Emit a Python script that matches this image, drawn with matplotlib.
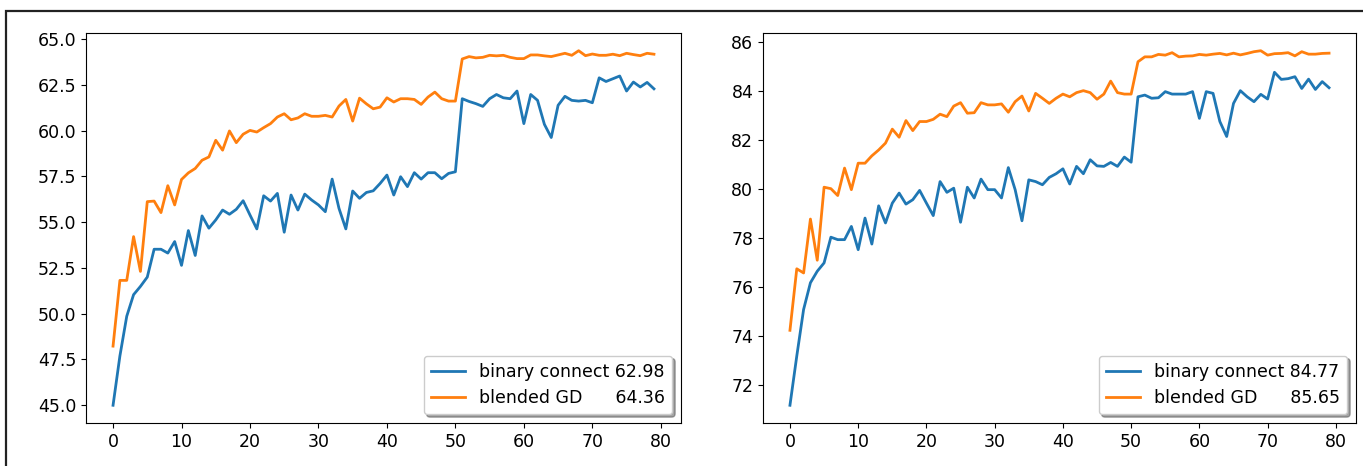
import matplotlib
matplotlib.use("Agg")
import matplotlib.pyplot as plt
from matplotlib.patches import Rectangle

epochs = list(range(80))

# left panel
left_binary = [45.0, 47.69, 49.86, 51.04, 51.49, 52.0, 53.52, 53.52, 53.31, 53.94,
               52.64, 54.54, 53.18, 55.34, 54.67, 55.12, 55.66, 55.43, 55.70, 56.17,
               55.39, 54.63, 56.44, 56.15, 56.57, 54.45, 56.48, 55.66, 56.53, 56.21,
               55.94, 55.57, 57.35, 55.75, 54.63, 56.70, 56.30, 56.62, 56.71, 57.11,
               57.57, 56.48, 57.48, 56.94, 57.70, 57.35, 57.70, 57.70, 57.37, 57.66,
               57.75, 61.74, 61.59, 61.47, 61.32, 61.74, 61.97, 61.79, 61.74, 62.16,
               60.38, 61.97, 61.65, 60.34, 59.62, 61.38, 61.87, 61.65, 61.61, 61.65,
               61.52, 62.88, 62.68, 62.83, 62.98, 62.16, 62.65, 62.38, 62.63, 62.28]
left_blended = [48.23, 51.82, 51.82, 54.21, 52.31, 56.12, 56.15, 55.52, 56.99, 55.94,
                57.33, 57.69, 57.93, 58.38, 58.56, 59.47, 58.93, 59.98, 59.34, 59.80,
                60.01, 59.92, 60.16, 60.38, 60.74, 60.92, 60.59, 60.69, 60.92, 60.78,
                60.78, 60.83, 60.74, 61.34, 61.70, 60.52, 61.77, 61.46, 61.19, 61.28,
                61.79, 61.56, 61.74, 61.74, 61.70, 61.43, 61.83, 62.10, 61.74, 61.61,
                61.61, 63.91, 64.04, 63.97, 64.00, 64.11, 64.08, 64.11, 64.00, 63.93,
                63.93, 64.13, 64.13, 64.08, 64.04, 64.13, 64.22, 64.11, 64.36, 64.09,
                64.18, 64.11, 64.11, 64.17, 64.09, 64.22, 64.15, 64.09, 64.22, 64.17]

# right panel
right_binary = [71.18, 73.19, 75.09, 76.18, 76.65, 76.99, 78.04, 77.94, 77.94, 78.48,
                77.53, 78.82, 77.76, 79.32, 78.62, 79.43, 79.84, 79.39, 79.57, 79.95,
                79.43, 78.92, 80.31, 79.87, 80.04, 78.65, 80.08, 79.64, 80.41, 79.98,
                79.98, 79.64, 80.88, 79.98, 78.71, 80.38, 80.31, 80.18, 80.48, 80.63,
                80.83, 80.21, 80.93, 80.63, 81.20, 80.95, 80.93, 81.09, 80.93, 81.31,
                81.10, 83.77, 83.84, 83.71, 83.73, 83.98, 83.88, 83.88, 83.88, 83.98,
                82.89, 83.98, 83.91, 82.76, 82.15, 83.50, 84.02, 83.77, 83.57, 83.87,
                83.68, 84.77, 84.48, 84.51, 84.59, 84.11, 84.49, 84.07, 84.39, 84.14]
right_blended = [74.24, 76.75, 76.58, 78.78, 77.10, 80.08, 80.02, 79.74, 80.86, 79.98,
                 81.06, 81.06, 81.36, 81.60, 81.88, 82.45, 82.12, 82.80, 82.39, 82.76,
                 82.76, 82.85, 83.06, 82.96, 83.39, 83.53, 83.10, 83.12, 83.53, 83.44,
                 83.44, 83.48, 83.14, 83.57, 83.80, 83.19, 83.91, 83.71, 83.50, 83.71,
                 83.88, 83.77, 83.94, 84.02, 83.94, 83.67, 83.88, 84.41, 83.94, 83.88,
                 83.88, 85.20, 85.40, 85.40, 85.50, 85.47, 85.57, 85.40, 85.43, 85.44,
                 85.50, 85.47, 85.51, 85.54, 85.48, 85.55, 85.48, 85.54, 85.61, 85.65,
                 85.47, 85.53, 85.54, 85.57, 85.44, 85.61, 85.51, 85.51, 85.54, 85.55]

labels_left = ["binary connect 62.98", "blended GD      64.36"]
labels_right = ["binary connect 84.77", "blended GD      85.65"]

plt.rcParams['font.size'] = 12.5

fig = plt.figure(figsize=(13.63, 4.66), dpi=100)

# outer frame of the screenshot
fig.add_artist(Rectangle((6 / 1363, -0.1), 1.2, (466 - 11) / 466 + 0.1,
                         transform=fig.transFigure, fill=False,
                         edgecolor='#222222', linewidth=1.6))

ax1 = fig.add_axes([86 / 1363, 43 / 466, 595 / 1363, 390 / 466])
ax2 = fig.add_axes([763 / 1363, 43 / 466, 593 / 1363, 390 / 466])

for ax, b, g, labs in [(ax1, left_binary, left_blended, labels_left),
                       (ax2, right_binary, right_blended, labels_right)]:
    ax.plot(epochs, b, color='#1f77b4', linewidth=2, label=labs[0])
    ax.plot(epochs, g, color='#ff7f0e', linewidth=2, label=labs[1])
    ax.set_xticks(range(0, 81, 10))
    ax.legend(loc='lower right', shadow=True, fontsize=12.5)

ax2.set_yticks(range(72, 87, 2))

fig.savefig("out.png", dpi=100)
